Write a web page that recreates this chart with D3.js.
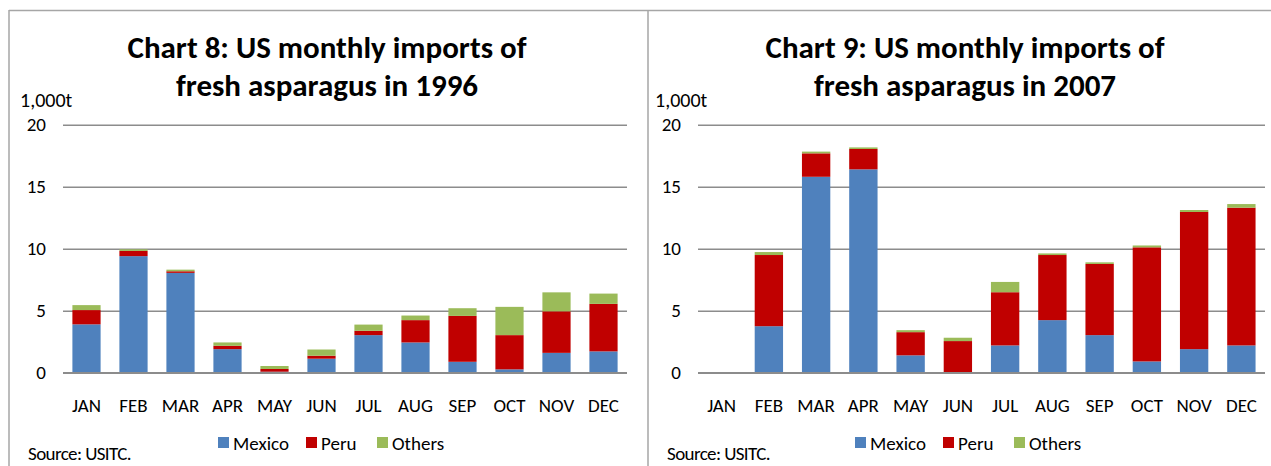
<!DOCTYPE html>
<html>
<head>
<meta charset="utf-8">
<script src="https://cdn.jsdelivr.net/npm/d3@7"></script>
<style>
  html, body { margin: 0; padding: 0; background: #fff; }
  svg { display: block; }
  text { font-family: Carlito, Lato, "Open Sans", sans-serif; fill: #000; }
</style>
</head>
<body>
<svg id="chart" width="1271" height="466"></svg>
<script>
// ---- data ----
const months = ["JAN","FEB","MAR","APR","MAY","JUN","JUL","AUG","SEP","OCT","NOV","DEC"];
const seriesNames = ["Mexico","Peru","Others"];
const seriesColors = ["#4F81BD","#C00000","#9BBB59"];
const yTicks = [0,5,10,15,20];
const yUnit = "1,000t";
const sourceText = "Source: USITC.";

const title1996 = ["Chart 8: US monthly imports of", "fresh asparagus in 1996"];
const mexico1996 = [3.9, 9.4, 8.05, 1.9, 0.08, 1.13, 3.03, 2.44, 0.88, 0.27, 1.6, 1.72];
const peru1996   = [1.15, 0.42, 0.13, 0.27, 0.22, 0.24, 0.35, 1.8, 3.7, 2.76, 3.35, 3.83];
const others1996 = [0.4, 0.13, 0.13, 0.27, 0.24, 0.5, 0.5, 0.37, 0.62, 2.28, 1.53, 0.83];

const title2007 = ["Chart 9: US monthly imports of", "fresh asparagus in 2007"];
const mexico2007 = [0, 3.75, 15.8, 16.4, 1.4, 0.05, 2.2, 4.24, 3.03, 0.91, 1.9, 2.2];
const peru2007   = [0, 5.74, 1.89, 1.64, 1.87, 2.5, 4.29, 5.25, 5.74, 9.2, 11.06, 11.11];
const others2007 = [0, 0.24, 0.14, 0.13, 0.16, 0.27, 0.83, 0.13, 0.13, 0.15, 0.16, 0.29];

// ---- drawing ----
const svg = d3.select("#chart");

// outer frame lines
const frame = svg.append("g").attr("stroke", "#a6a6a6").attr("stroke-width", 1.5);
frame.append("line").attr("x1", 9).attr("x2", 1271).attr("y1", 10.5).attr("y2", 10.5);
frame.append("line").attr("x1", 9).attr("x2", 9).attr("y1", 10).attr("y2", 466);
frame.append("line").attr("x1", 648).attr("x2", 648).attr("y1", 10).attr("y2", 466);

function drawChart(cfg) {
  const g = svg.append("g");
  const x = d3.scaleBand().domain(months).range([cfg.x0, cfg.x1]).paddingInner(0.4).paddingOuter(0.2);
  const y = d3.scaleLinear().domain([0, 20]).range([372.7, 124.7]);

  // title
  const t = g.append("text").attr("text-anchor", "middle").attr("font-weight", "bold")
    .attr("font-size", 31).attr("x", cfg.titleX);
  t.selectAll("tspan").data(cfg.title).join("tspan")
    .attr("x", cfg.titleX).attr("y", (d, i) => 58 + i * 38).text(d => d);

  // gridlines
  const yAxis = d3.axisLeft(y).tickValues(yTicks).tickSize(-(cfg.x1 - cfg.x0)).tickPadding(17);
  const ga = g.append("g").attr("transform", `translate(${cfg.x0},0)`).call(yAxis);
  ga.select(".domain").remove();
  ga.selectAll(".tick line").attr("stroke", "#8c8c8c").attr("stroke-width", 1.5);
  ga.selectAll(".tick text").attr("font-size", 19).attr("font-family", "Carlito, Lato, sans-serif").attr("fill", "#000");

  // unit label
  g.append("text").attr("x", cfg.x0 - 43).attr("y", 107).attr("font-size", 20).text(yUnit);

  // stacked bars
  const rows = months.map((m, i) => ({ month: m, Mexico: cfg.mexico[i], Peru: cfg.peru[i], Others: cfg.others[i] }));
  const stack = d3.stack().keys(seriesNames)(rows);
  g.append("g").selectAll("g").data(stack).join("g")
    .attr("fill", (d, i) => seriesColors[i])
    .selectAll("rect").data(d => d).join("rect")
      .attr("x", d => x(d.data.month))
      .attr("width", x.bandwidth())
      .attr("y", d => y(d[1]))
      .attr("height", d => Math.max(0, y(d[0]) - y(d[1])));

  // zero line on top
  g.append("line").attr("x1", cfg.x0).attr("x2", cfg.x1).attr("y1", y(0)).attr("y2", y(0))
    .attr("stroke", "#8c8c8c").attr("stroke-width", 1.5);

  // x labels
  const xAxis = d3.axisBottom(x).tickSize(0).tickPadding(26);
  const gx = g.append("g").attr("transform", `translate(0,${y(0)})`).call(xAxis);
  gx.select(".domain").remove();
  gx.selectAll(".tick text").attr("font-size", 19).attr("font-family", "Carlito, Lato, sans-serif").attr("fill", "#000");

  // legend
  const lg = g.append("g").attr("transform", `translate(${cfg.legendX},0)`);
  const offs = [0, 88, 159];
  seriesNames.forEach((s, i) => {
    lg.append("rect").attr("x", offs[i]).attr("y", 437).attr("width", 11).attr("height", 11).attr("fill", seriesColors[i]);
    lg.append("text").attr("x", offs[i] + 15).attr("y", 450).attr("font-size", 19).text(s);
  });

  // source
  g.append("text").attr("x", cfg.sourceX).attr("y", 460).attr("font-size", 19)
    .attr("letter-spacing", -0.6).text(sourceText);
}

drawChart({ x0: 63, x1: 627, titleX: 327, legendX: 218, sourceX: 28,
  title: title1996, mexico: mexico1996, peru: peru1996, others: others1996 });
drawChart({ x0: 698, x1: 1265, titleX: 965, legendX: 855, sourceX: 667,
  title: title2007, mexico: mexico2007, peru: peru2007, others: others2007 });
</script>
</body>
</html>
